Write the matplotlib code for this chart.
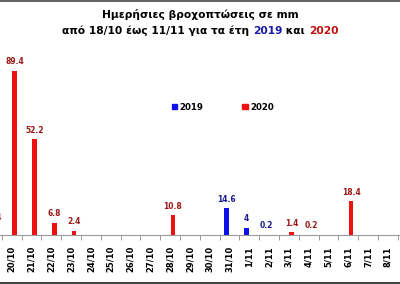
import matplotlib
matplotlib.use('Agg')
import matplotlib.pyplot as plt
from matplotlib.lines import Line2D
from matplotlib.patches import Patch
import numpy as np

# daily rainfall (mm), 18/10 -> 11/11
dates = ['18/10', '19/10', '20/10', '21/10', '22/10', '23/10', '24/10', '25/10',
         '26/10', '27/10', '28/10', '29/10', '30/10', '31/10', '1/11', '2/11',
         '3/11', '4/11', '5/11', '6/11', '7/11', '8/11', '9/11', '10/11', '11/11']
rain_2019 = [0, 0, 0, 0, 0, 0, 0, 0, 0, 0, 0, 0, 0, 14.6, 4, 0.2,
             0, 0, 0, 0, 0, 0, 0, 0, 0]
rain_2020 = [0, 4.4, 89.4, 52.2, 6.8, 2.4, 0, 0, 0, 0, 10.8, 0, 0, 0, 0, 0,
             1.4, 0.2, 0, 18.4, 0, 0, 0, 0, 0]

BAR_2019 = '#1010e8'
BAR_2020 = '#f01010'
LBL_2019 = '#1a1a8a'
LBL_2020 = '#9a1a1a'

fig = plt.figure(figsize=(4.0, 2.84), dpi=100)
ax = fig.add_axes([0, (284 - 235) / 284, 1, 183.5 / 284])

x = np.arange(len(dates))
w = 0.24
off = 0.146
ax.bar(x - off, rain_2019, width=w, color=BAR_2019)
ax.bar(x + off, rain_2020, width=w, color=BAR_2020)

for xi, v in zip(x, rain_2019):
    if v > 0:
        ax.text(xi - off, v + 2.5, f'{v:g}', ha='center', va='bottom',
                fontsize=5.5, fontweight='bold', color=LBL_2019)
for xi, v in zip(x, rain_2020):
    if v > 0:
        ax.text(xi + off, v + 2.5, f'{v:g}', ha='center', va='bottom',
                fontsize=5.5, fontweight='bold', color=LBL_2020)

for s in ['top', 'right', 'left']:
    ax.spines[s].set_visible(False)
ax.spines['bottom'].set_color('#999999')
ax.spines['bottom'].set_linewidth(0.8)
ax.set_yticks([])
ax.set_xticks(x)
ax.set_xticklabels(dates, rotation=90, fontsize=6, fontweight='bold')
ax.set_xticks(np.arange(len(dates) + 1) - 0.5, minor=True)
ax.tick_params(axis='x', which='major', length=0, pad=8)
ax.tick_params(axis='x', which='minor', length=3.5, color='#999999', width=0.7)
ax.set_xlim(1.404, 21.616)
ax.set_ylim(0, 100)

handles = [Patch(color=BAR_2019, label='2019'), Patch(color=BAR_2020, label='2020')]
leg = fig.legend(handles=handles, loc='center', bbox_to_anchor=(223 / 400, 1 - 107 / 284),
                 ncol=2, frameon=False, handlelength=0.6, handleheight=0.6,
                 handletextpad=0.3, columnspacing=4.5,
                 prop={'size': 6.2, 'weight': 'bold'})

# title
fig.text(0.5, 1 - 15 / 284, 'Ημερήσιες βροχοπτώσεις σε mm', ha='center', va='center',
         fontsize=7.7, fontweight='heavy')
parts = [('από 18/10 έως 11/11 για τα έτη ', 'black'), ('2019', '#1a1aa0'),
         (' και ', 'black'), ('2020', '#c01010')]
fig.canvas.draw()
r = fig.canvas.get_renderer()
texts = []
for s, c in parts:
    t = fig.text(0, 1 - 31 / 284, s, ha='left', va='center', fontsize=7.7,
                 fontweight='heavy', color=c)
    texts.append(t)
widths = [t.get_window_extent(r).width for t in texts]
total = sum(widths)
xpos = (400 - total) / 2
for t, wd in zip(texts, widths):
    t.set_x(xpos / 400)
    xpos += wd

fig.add_artist(Line2D([0, 1], [1 - 0.5 / 284, 1 - 0.5 / 284], color='#444444', lw=1.2))
fig.add_artist(Line2D([0, 1], [1.5 / 284, 1.5 / 284], color='#444444', lw=1.5))

fig.savefig('out.png', dpi=100)
